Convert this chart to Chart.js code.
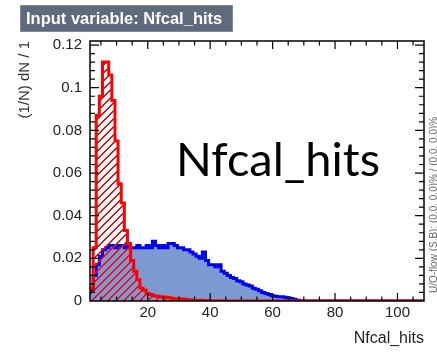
<!DOCTYPE html>
<html>
<head>
<meta charset="utf-8">
<title>Input variable: Nfcal_hits</title>
<script src="https://cdn.jsdelivr.net/npm/chart.js@4.4.1/dist/chart.umd.min.js"></script>
<style>
    html, body { margin: 0; padding: 0; background: #fff; }
    canvas { display: block; }
</style>
</head>
<body>
<canvas id="chart" width="437" height="352"></canvas>
<script>
// Binning: one bin per hit count, first bin centred on 2
const firstEdge = 1.5;
const binWidth = 1;
const xRange = [1.5, 108.5];

// Background (red, hatched) - normalised, bins 2..108
const backgroundHist = [
    0.006, 0.025, 0.087, 0.096, 0.112, 0.112, 0.106, 0.094, 0.075, 0.055,
    0.046, 0.033, 0.027, 0.019, 0.014, 0.010, 0.006, 0.005, 0.0035, 0.003,
    0.0025, 0.0022, 0.002, 0.0019, 0.0017, 0.0015, 0.0012, 0.001, 0.001, 0.0009,
    0.0008, 0.0006, 0.0005, 0.0004, 0.0003, 0.0003, 0.0002, 0.0002, 0.0001, 0.0001,
    0.0001, 0.0001, 0, 0, 0, 0, 0, 0, 0, 0,
    0, 0, 0, 0, 0, 0, 0, 0, 0, 0,
    0, 0, 0, 0, 0, 0, 0, 0, 0, 0,
    0, 0, 0, 0, 0, 0, 0, 0, 0, 0,
    0, 0, 0, 0, 0, 0, 0, 0, 0, 0,
    0, 0, 0, 0, 0, 0, 0, 0, 0, 0,
    0, 0, 0, 0, 0, 0, 0
];

// Signal (blue, filled) - normalised, bins 2..108
const signalHist = [
    0.005, 0.012, 0.017, 0.021, 0.024, 0.025, 0.026, 0.026, 0.025, 0.026,
    0.026, 0.025, 0.026, 0.025, 0.025, 0.026, 0.025, 0.025, 0.026, 0.025,
    0.028, 0.026, 0.025, 0.026, 0.025, 0.027, 0.027, 0.026, 0.025, 0.025,
    0.024, 0.024, 0.023, 0.022, 0.021, 0.020, 0.023, 0.019, 0.017, 0.017,
    0.016, 0.017, 0.014, 0.013, 0.012, 0.011, 0.0105, 0.0095, 0.009, 0.008,
    0.0075, 0.007, 0.006, 0.0055, 0.0048, 0.004, 0.0035, 0.003, 0.0025, 0.0022,
    0.002, 0.002, 0.0018, 0.0015, 0.0012, 0.0008, 0.0004, 0, 0, 0,
    0, 0, 0, 0, 0, 0, 0, 0, 0, 0,
    0, 0, 0, 0, 0, 0, 0, 0, 0, 0,
    0, 0, 0, 0, 0, 0, 0, 0, 0, 0,
    0, 0, 0, 0, 0, 0, 0
];

const xLabels = [20, 40, 60, 80, 100];
const xMinorStep = 5;
const yLabels = [0, 0.02, 0.04, 0.06, 0.08, 0.1, 0.12];
const yMinorStep = 0.004;
const yMax = 0.1219;

// turn bin contents into step points at the low bin edges
function toSteps(values) {
    const pts = values.map((v, i) => ({ x: firstEdge + i * binWidth, y: v }));
    pts.push({ x: firstEdge + values.length * binWidth, y: values[values.length - 1] });
    return pts;
}

const canvas = document.getElementById("chart");
const ctx = canvas.getContext("2d");

// red "/" hatching like ROOT fill style 3554
function makeHatch() {
    const size = 8;
    const c = document.createElement("canvas");
    c.width = size;
    c.height = size;
    const g = c.getContext("2d");
    g.fillStyle = "rgb(255,0,0)";
    for (let i = 0; i < size; i++) {
        g.fillRect(i, size - 1 - i, 1, 1);
        g.fillRect((i + 1) % size, size - 1 - i, 1, 1);
    }
    return ctx.createPattern(c, "repeat");
}

const framePlugin = {
    id: "frame",
    beforeDraw(chart) {
        const c = chart.ctx;
        c.save();
        c.fillStyle = "#fff";
        c.fillRect(0, 0, chart.width, chart.height);
        c.restore();
    },
    afterDraw(chart) {
        const c = chart.ctx;
        const a = chart.chartArea;
        const xs = chart.scales.x;
        const ys = chart.scales.y;
        c.save();

        // frame + inner ticks on all four sides
        c.strokeStyle = "#000";
        c.lineWidth = 1.5;
        c.strokeRect(a.left, a.top, a.right - a.left, a.bottom - a.top);
        c.beginPath();
        for (let v = xMinorStep; v < xRange[1]; v += xMinorStep) {
            const px = xs.getPixelForValue(v);
            if (px <= a.left + 1) continue;
            const len = xLabels.includes(v) ? 8 : 4.5;
            c.moveTo(px, a.bottom); c.lineTo(px, a.bottom - len);
            c.moveTo(px, a.top); c.lineTo(px, a.top + len);
        }
        for (let i = 1; i * yMinorStep < yMax; i++) {
            const py = ys.getPixelForValue(i * yMinorStep);
            const len = i % 5 === 0 ? 9 : 5;
            c.moveTo(a.left, py); c.lineTo(a.left + len, py);
            c.moveTo(a.right, py); c.lineTo(a.right - len, py);
        }
        c.lineWidth = 1.2;
        c.stroke();

        // title box
        c.fillStyle = "#5d6b7d";
        c.fillRect(20, 5, 213, 27);
        c.strokeStyle = "#7d8b9d";
        c.lineWidth = 1;
        c.strokeRect(20.5, 5.5, 212, 26);
        c.fillStyle = "#fff";
        c.font = "bold 16.5px 'Liberation Sans', Arial, sans-serif";
        c.textBaseline = "alphabetic";
        c.textAlign = "left";
        c.fillText("Input variable: Nfcal_hits", 26, 24);

        // big label pasted on the plot
        c.fillStyle = "#000";
        c.font = "47px Lato, 'Open Sans', sans-serif";
        c.fillText("Nfcal_hits", 176, 176);

        // under/overflow note along the right edge
        c.translate(434, 293);
        c.rotate(-Math.PI / 2);
        c.fillStyle = "#666";
        c.font = "10px 'Liberation Sans', Arial, sans-serif";
        c.textBaseline = "middle";
        c.fillText("U/O-flow (S,B): (0.0, 0.0)% / (0.0, 0.0)%", 0, 0);

        c.restore();
    }
};

new Chart(ctx, {
    type: "line",
    data: {
        datasets: [
            {
                label: "Background",
                data: toSteps(backgroundHist),
                stepped: "before",
                borderColor: "#ff0000",
                borderWidth: 3,
                backgroundColor: makeHatch(),
                fill: "origin",
                pointRadius: 0,
            },
            {
                label: "Signal",
                data: toSteps(signalHist),
                stepped: "before",
                borderColor: "#0000ee",
                borderWidth: 3,
                backgroundColor: "#7d99d1",
                fill: "origin",
                pointRadius: 0,
            }
        ]
    },
    options: {
        responsive: false,
        devicePixelRatio: 1,
        animation: false,
        layout: { padding: { left: 0, right: 13, top: 41, bottom: 0 } },
        plugins: {
            legend: { display: false },
            tooltip: { enabled: false },
        },
        scales: {
            x: {
                type: "linear",
                min: xRange[0],
                max: xRange[1],
                afterBuildTicks: s => { s.ticks = xLabels.map(v => ({ value: v })); },
                afterFit: s => { s.height = 51; },
                grid: { display: false, drawTicks: false },
                border: { display: false },
                ticks: {
                    padding: 3,
                    color: "#222",
                    font: { family: "'Liberation Sans', Arial, sans-serif", size: 15 },
                    maxRotation: 0,
                },
                title: {
                    display: true,
                    text: "Nfcal_hits",
                    align: "end",
                    color: "#222",
                    font: { family: "'Liberation Sans', Arial, sans-serif", size: 16 },
                    padding: { top: 0, bottom: 4 },
                },
            },
            y: {
                min: 0,
                max: yMax,
                afterBuildTicks: s => { s.ticks = yLabels.map(v => ({ value: v })); },
                afterFit: s => { s.width = 90; },
                grid: { display: false, drawTicks: false },
                border: { display: false },
                ticks: {
                    padding: 8,
                    color: "#222",
                    font: { family: "'Liberation Sans', Arial, sans-serif", size: 15 },
                    callback: v => String(+v.toFixed(2)),
                },
                title: {
                    display: true,
                    text: "(1/N) dN / 1",
                    align: "end",
                    color: "#333",
                    font: { family: "'Liberation Sans', Arial, sans-serif", size: 15 },
                    padding: { top: 16, bottom: 0 },
                },
            },
        },
    },
    plugins: [framePlugin],
});
</script>
</body>
</html>
